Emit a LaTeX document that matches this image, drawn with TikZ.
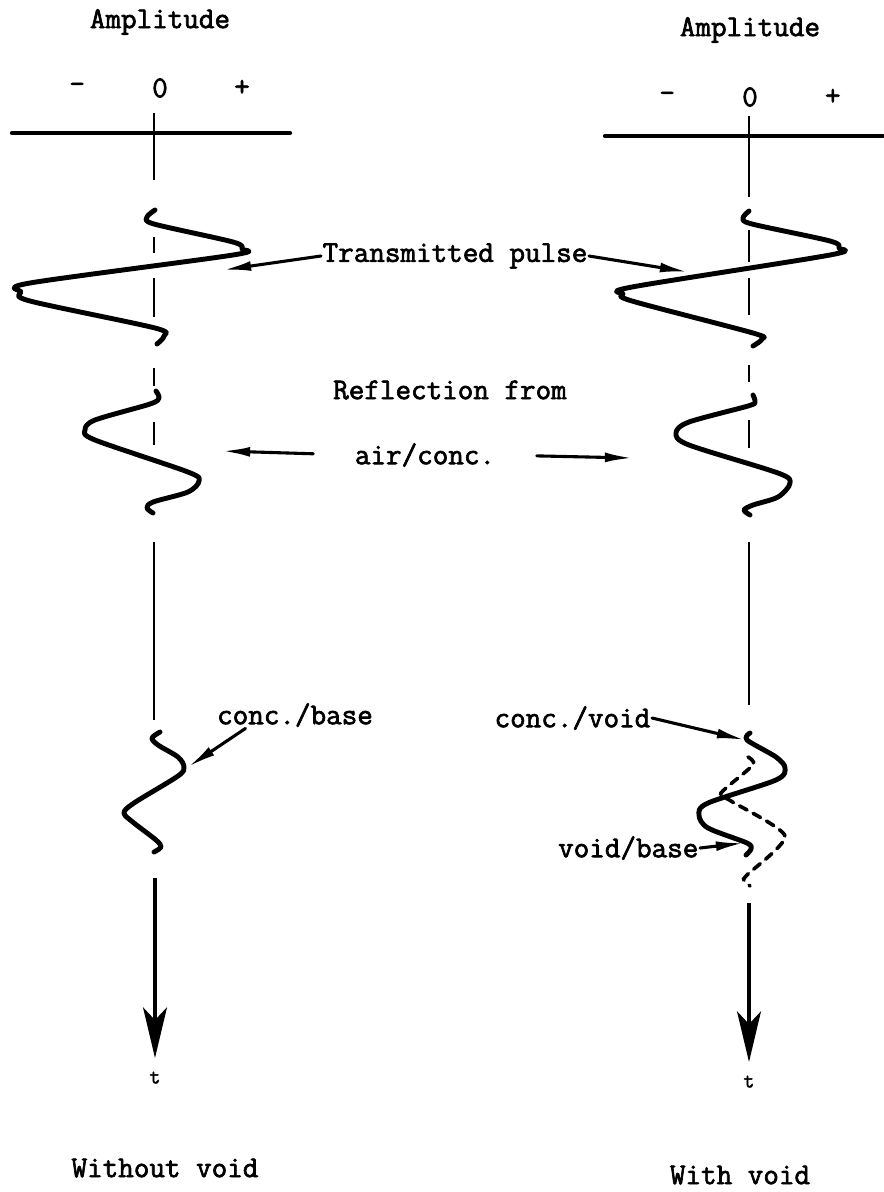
\documentclass[tikz,border=0pt]{standalone}
\usepackage{fontspec}
\newfontfamily\twfont{Latin Modern Mono}[FakeBold=2.2]
\usetikzlibrary{arrows.meta, positioning, calc}

\begin{document}
\begin{tikzpicture}[
  x=0.025cm, y=-0.025cm,
  lbl/.style={font=\fontsize{21.5}{24}\selectfont\twfont, inner sep=1pt},
  tlbl/.style={font=\fontsize{15}{17}\selectfont\twfont, inner sep=1pt},
  axisline/.style={line width=3pt, line cap=round},
  zeroline/.style={line width=2pt},
  wave/.style={line width=3.5pt, line cap=round, line join=round},
  refwave/.style={line width=2.6pt, line cap=round, dash pattern=on 6pt off 5pt},
  arr/.style={-{Latex[length=20pt, width=7pt]}, line width=2.2pt, line cap=round},
  timearr/.style={-{Stealth[length=36pt, width=17pt, inset=9pt]}, line width=2.4pt}
]
\useasboundingbox (0,0) rectangle (883,1192);

\node[lbl] (ampL) at (160,22) {Amplitude};
\node[lbl] (zeroL) at (160,88) {0};
\node[lbl, on grid, left=2.07cm of zeroL] (minL) {-};
\node[lbl, on grid, right=2.05cm of zeroL] (plusL) {+};
\node[lbl] (ampR) at (750,30) {Amplitude};
\node[lbl] (zeroR) at (750,97) {0};
\node[lbl, on grid, left=2.07cm of zeroR] (minR) {-};
\node[lbl, on grid, right=2.07cm of zeroR] (plusR) {+};

\draw[axisline] (12,133) -- (290,133);
\draw[axisline] (605,136) -- (883,136);
\foreach \a/\b in {113/180, 237/253, 278/317, 368/386, 422/445, 542/720}
  \draw[zeroline] (154,\a) -- (154,\b);
\foreach \a/\b in {116/197, 230/262, 278/315, 365/382, 420/448, 542/705}
  \draw[zeroline] (749,\a) -- (749,\b);

\draw[wave] plot[smooth, tension=0.5] coordinates {(155,210) (147,217) (154,224) (233,242) (242,249) (233,255) (30,283) (21,292) (30,301) (155,328) (164,336) (157,344)};
\draw[wave] plot[smooth, tension=0.5] coordinates {(749,211) (743,218) (752,224) (830,241) (839,248) (830,255) (632,287) (623,294) (632,301) (753,333) (762,339) (753,346)};
\draw[wave] plot[smooth, tension=0.5] coordinates {(156,391) (159,398) (150,404) (95,420) (85,430) (95,440) (188,472) (199,481) (188,492) (153,502) (147,508) (153,513)};
\draw[wave] plot[smooth, tension=0.5] coordinates {(753,395) (755,402) (748,406) (689,422) (676,433) (689,445) (778,473) (790,483) (778,497) (753,505) (744,510) (750,515)};
\draw[wave] plot[smooth, tension=0.5] coordinates {(160,732) (152,738) (158,745) (178,757) (184,767) (178,776) (134,803) (124,813) (134,823) (156,840) (161,847) (154,852)};
\draw[wave] plot[smooth, tension=0.5] coordinates {(750,733) (747,740) (776,757) (785,768) (776,780) (708,803) (699,815) (708,828) (747,843) (751,849) (746,855)};
\draw[refwave] plot[smooth, tension=0.4] coordinates {(748,757) (753,765) (721,793) (731,801) (785,836) (747,875) (744,880) (750,886)};

\node[lbl] (tp) at (455,256) {Transmitted pulse};
\node[lbl] (refl) at (450,390) {Reflection from};
\node[lbl] (air) at (425,455) {air/conc.};
\node[lbl] (cb) at (295,715) {conc./base};
\node[lbl, anchor=east] (cv) at (652,718) {conc./void};
\node[lbl, anchor=east] (vb) at (700,848) {void/base};

\coordinate (tpL) at (223,270);
\coordinate (tpR) at (688,272);
\coordinate (airL) at (222,451);
\coordinate (airR) at (633,458);
\coordinate (cbT) at (188,767);
\coordinate (cvT) at (745,740);
\coordinate (vbT) at (744,843);
\draw[arr] (tp.west) -- (tpL);
\draw[arr] (tp.east) -- (tpR);
\draw[arr, shorten <=1cm] (air.west) -- (airL);
\draw[arr, shorten <=1cm] (air.east) -- (airR);
\draw[arr] ([xshift=0.75cm]cb.south west) -- (cbT);
\draw[arr] (cv.east) -- (cvT);
\draw[arr] (vb.east) -- (vbT);

\coordinate (tsL) at (155,878);
\coordinate (teL) at (155,1058);
\coordinate (tsR) at (749,903);
\coordinate (teR) at (749,1062);
\draw[timearr] (tsL) -- (teL);
\draw[timearr] (tsR) -- (teR);
\node[tlbl, below=0.3cm of teL] (tL) {t};
\node[tlbl, below=0.3cm of teR] (tR) {t};

\node[lbl] (woL) at (165,1168) {Without void};
\node[lbl] (wR) at (740,1175) {With void};
\end{tikzpicture}
\end{document}
